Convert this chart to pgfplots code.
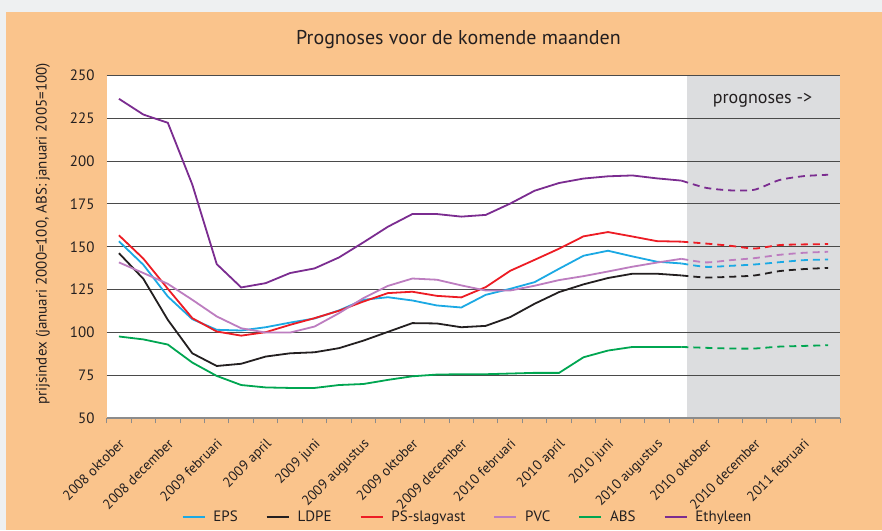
\documentclass[border=0pt]{standalone}
\usepackage{pgfplots}
\usepackage{pgfplotstable}
\pgfplotsset{compat=1.18}
\usepackage{fontspec}
\setmainfont{PT Sans}

\definecolor{outerbg}{HTML}{EEF0F1}
\definecolor{orangebg}{HTML}{FAC48C}
\definecolor{fcgray}{HTML}{DCDDDF}
\definecolor{gridc}{HTML}{4A4A4A}
\definecolor{axisgray}{HTML}{8C8C8C}
\definecolor{textc}{HTML}{231F20}
\definecolor{cEPS}{HTML}{1BA9E4}
\definecolor{cLDPE}{HTML}{231F20}
\definecolor{cPS}{HTML}{ED1C24}
\definecolor{cPVC}{HTML}{BD7DC0}
\definecolor{cABS}{HTML}{00A651}
\definecolor{cETH}{HTML}{7B2C90}

\pgfplotstableread{
x EPS LDPE PS PVC ABS ETH
0 153.2 146.3 156.7 140.9 97.7 236.3
1 139.5 131.3 143.1 134.7 96.0 227.1
2 121.0 107.4 125.5 128.4 93.0 222.3
3 107.8 87.9 108.4 119.1 82.5 186.3
4 101.6 80.5 100.6 109.4 74.7 139.9
5 101.2 81.8 98.2 102.5 69.4 126.3
6 103.1 86.0 100.2 100.0 68.0 128.8
7 105.8 87.9 104.5 100.0 67.7 134.7
8 108.2 88.5 108.4 103.5 67.7 137.4
9 112.9 90.9 112.7 111.3 69.4 143.8
10 119.1 95.3 118.1 120.1 70.0 152.6
11 120.6 100.4 123.0 127.2 72.4 161.7
12 118.7 105.5 123.8 131.5 74.5 169.1
13 115.8 105.3 121.4 130.8 75.5 169.1
14 114.6 103.1 120.5 127.5 75.7 167.6
15 122.0 103.9 126.5 124.5 75.7 168.6
16 125.5 109.0 136.0 124.5 76.1 175.2
17 129.4 116.8 142.4 127.3 76.5 182.7
18 137.2 123.6 148.9 130.6 76.5 187.2
19 144.8 128.1 156.1 132.9 85.6 189.8
20 147.7 131.8 158.6 135.6 89.5 191.1
21 144.4 134.3 156.0 138.4 91.6 191.6
22 141.3 134.3 153.3 140.8 91.6 189.9
23 140.3 133.3 153.0 143.0 91.6 188.6
}\histdata

\pgfplotstableread{
x EPS LDPE PS PVC ABS ETH
23 140.3 133.3 153.0 143.0 91.6 188.6
24 138.3 132.1 151.9 140.9 91.1 184.4
25 138.9 132.5 150.6 142.2 90.7 182.9
26 139.7 133.3 149.0 143.4 90.7 183.3
27 141.0 135.8 151.0 145.3 91.8 188.9
28 142.2 137.0 151.4 146.5 92.2 191.2
29 142.6 137.7 151.6 147.1 92.6 192.0
}\fcdata

\begin{document}
\begin{tikzpicture}[x=1pt,y=1pt]
\useasboundingbox (0,0) rectangle (882,530);
\fill[outerbg] (0,0) rectangle (882,530);
\fill[orangebg] (6,0) rectangle (882,518);
\fill[white] (106.7,111.7) rectangle (687,454.7);
\fill[fcgray] (687,111.7) rectangle (840.3,454.7);
\node[font=\fontsize{20}{22}\selectfont, anchor=base, text=textc] at (458.5,485) {Prognoses voor de komende maanden};
\node[font=\fontsize{18}{20}\selectfont, anchor=base, text=textc] at (762.5,426.7) {prognoses ->};
\node[rotate=90, font=\fontsize{15}{17}\selectfont, text=textc] at (43,296) {prijsindex (januari 2000=100, ABS: januari 2005=100)};
\begin{axis}[
  at={(106.7pt,111.7pt)}, anchor=south west,
  scale only axis, width=733.6pt, height=343pt,
  xmin=-0.5, xmax=29.5, ymin=50, ymax=250,
  ytick={50,75,...,250},
  xtick={0,2,...,28},
  xticklabels={2008 oktober,2008 december,2009 februari,2009 april,2009 juni,2009 augustus,2009 oktober,2009 december,2010 februari,2010 april,2010 juni,2010 augustus,2010 oktober,2010 december,2011 februari},
  minor xtick={-0.5,0.5,...,29.5},
  axis x line*=bottom, axis y line*=left,
  y axis line style={draw=none},
  x axis line style={draw=axisgray, line width=2pt, -},
  ytick style={draw=none},
  major x tick style={draw=none},
  minor x tick style={draw=axisgray, line width=1pt},
  major tick length=0pt,
  minor tick length=5pt,
  tick align=outside,
  ymajorgrids, grid style={gridc, line width=1pt},
  /pgf/number format/assume math mode=true,
  xticklabel style={rotate=45, anchor=north east, inner sep=0pt, xshift=-14pt, yshift=-13pt, font=\fontsize{14}{16}\selectfont, text=textc},
  yticklabel style={inner sep=0pt, xshift=-12pt, font=\fontsize{15}{17}\selectfont, text=textc},
  legend style={at={(0.4905,-0.2878)}, anchor=center, draw=none, fill=none,
    legend columns=6, font=\fontsize{15}{17}\selectfont, text=textc,
    nodes={inner sep=0pt},
    /tikz/every even column/.append style={column sep=28pt},
    /tikz/every odd column/.append style={column sep=8pt}},
  legend image code/.code={\draw[#1] (0pt,0pt) -- (22pt,0pt);},
  every axis plot/.append style={line width=1.8pt},
]
\addplot[cEPS] table[x=x,y=EPS] {\histdata};
\addlegendentry{EPS}
\addplot[cLDPE] table[x=x,y=LDPE] {\histdata};
\addlegendentry{LDPE}
\addplot[cPS] table[x=x,y=PS] {\histdata};
\addlegendentry{PS-slagvast}
\addplot[cPVC] table[x=x,y=PVC] {\histdata};
\addlegendentry{PVC}
\addplot[cABS] table[x=x,y=ABS] {\histdata};
\addlegendentry{ABS}
\addplot[cETH] table[x=x,y=ETH] {\histdata};
\addlegendentry{Ethyleen}
\addplot[cEPS, smooth, tension=0.4, dash pattern=on 7pt off 5pt, forget plot] table[x=x,y=EPS] {\fcdata};
\addplot[cLDPE, smooth, tension=0.4, dash pattern=on 7pt off 5pt, forget plot] table[x=x,y=LDPE] {\fcdata};
\addplot[cPS, smooth, tension=0.4, dash pattern=on 7pt off 5pt, forget plot] table[x=x,y=PS] {\fcdata};
\addplot[cPVC, smooth, tension=0.4, dash pattern=on 7pt off 5pt, forget plot] table[x=x,y=PVC] {\fcdata};
\addplot[cABS, smooth, tension=0.4, dash pattern=on 7pt off 5pt, forget plot] table[x=x,y=ABS] {\fcdata};
\addplot[cETH, smooth, tension=0.4, dash pattern=on 7pt off 5pt, forget plot] table[x=x,y=ETH] {\fcdata};
\end{axis}
\end{tikzpicture}
\end{document}
